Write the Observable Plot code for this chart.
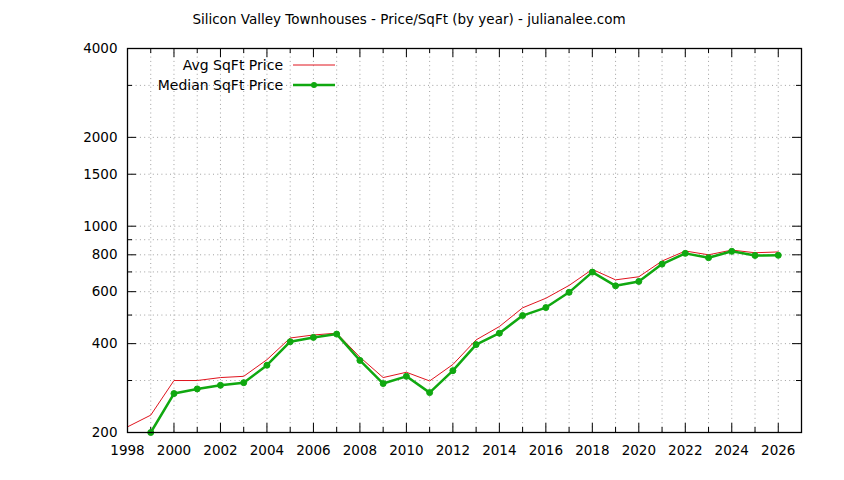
<!DOCTYPE html>
<html>
<head>
<meta charset="utf-8">
<script src="https://cdn.jsdelivr.net/npm/d3@7"></script>
<script src="https://cdn.jsdelivr.net/npm/@observablehq/plot@0.6"></script>
<style>
  html, body { margin: 0; padding: 0; background: #fff; }
  #chart svg { display: block; }
</style>
</head>
<body>
<div id="chart"></div>
<script>
const years = [1998,1999,2000,2001,2002,2003,2004,2005,2006,2007,2008,2009,2010,2011,2012,2013,2014,2015,2016,2017,2018,2019,2020,2021,2022,2023,2024,2025,2026];
const avgPrice = [209,229,300,300,307,310,353,418,428,434,360,307,320,299,340,412,457,529,570,630,714,658,674,762,824,800,830,813,818];
const medianYears = [1999,2000,2001,2002,2003,2004,2005,2006,2007,2008,2009,2010,2011,2012,2013,2014,2015,2016,2017,2018,2019,2020,2021,2022,2023,2024,2025,2026];
const medianPrice = [200,271,281,289,295,338,406,420,431,351,293,310,273,324,397,434,498,530,597,699,628,650,744,809,782,822,796,797];
const xLabelTicks = [1998,2000,2002,2004,2006,2008,2010,2012,2014,2016,2018,2020,2022,2024,2026];
const xMinorTicks = [1999,2001,2003,2005,2007,2009,2011,2013,2015,2017,2019,2021,2023,2025];
const yLabelTicks = [200,400,600,800,1000,1500,2000,4000];
const yMinorTicks = [300,500,700,900,3000];
const yGrid = [300,400,500,600,700,800,900,1000,1500,2000,3000];
const xGrid = years.slice(1);
const title = "Silicon Valley Townhouses - Price/SqFt (by year) - julianalee.com";
const legendLabels = ["Avg SqFt Price", "Median SqFt Price"];

const avgData = years.map((y, i) => ({year: y, value: avgPrice[i]}));
const medData = medianYears.map((y, i) => ({year: y, value: medianPrice[i]}));

const W = 844, H = 480, mT = 48, mB = 48, mL = 127, mR = 43;
const frameH = H - mT - mB, frameW = W - mL - mR;
const grid = {stroke: "#a0a0a0", strokeWidth: 1, strokeDasharray: "1,3.3", strokeOpacity: 1};
const RED = "#e0141e", GREEN = "#10a810";

const plot = Plot.plot({
  width: W, height: H,
  marginTop: mT, marginBottom: mB, marginLeft: mL, marginRight: mR,
  style: {fontFamily: "DejaVu Sans", fontSize: "13.5px", color: "#000", background: "#fff"},
  x: {type: "linear", domain: [1998, 2027], nice: false},
  y: {type: "log", domain: [200, 4000], nice: false},
  marks: [
    Plot.ruleX(xGrid, {x: d => d, ...grid}),
    Plot.ruleY(yGrid, {y: d => d, ...grid}),
    Plot.tickX(xLabelTicks, {x: d => d, insetTop: frameH - 9, stroke: "#000"}),
    Plot.tickX(xLabelTicks, {x: d => d, insetBottom: frameH - 9, stroke: "#000"}),
    Plot.tickX(xMinorTicks, {x: d => d, insetTop: frameH - 5, stroke: "#000"}),
    Plot.tickX(xMinorTicks, {x: d => d, insetBottom: frameH - 5, stroke: "#000"}),
    Plot.tickY(yLabelTicks, {y: d => d, insetRight: frameW - 9, stroke: "#000"}),
    Plot.tickY(yLabelTicks, {y: d => d, insetLeft: frameW - 9, stroke: "#000"}),
    Plot.tickY(yMinorTicks, {y: d => d, insetRight: frameW - 5, stroke: "#000"}),
    Plot.tickY(yMinorTicks, {y: d => d, insetLeft: frameW - 5, stroke: "#000"}),
    Plot.axisX({ticks: xLabelTicks, tickSize: 0, tickPadding: 13, tickFormat: d => String(d), label: null, fontSize: 13.5}),
    Plot.axisY({ticks: yLabelTicks, tickSize: 0, tickPadding: 10, tickFormat: d => String(d), label: null, fontSize: 13.5}),
    Plot.line(avgData, {x: "year", y: "value", stroke: RED, strokeWidth: 1}),
    Plot.line(medData, {x: "year", y: "value", stroke: GREEN, strokeWidth: 2.5}),
    Plot.dot(medData, {x: "year", y: "value", r: 3, fill: GREEN, stroke: GREEN, strokeWidth: 1}),
    Plot.frame({stroke: "#000", strokeWidth: 1.3})
  ]
});

const svg = d3.select(plot);
svg.append("text")
  .attr("x", 409).attr("y", 19)
  .attr("text-anchor", "middle").attr("dominant-baseline", "central")
  .attr("font-family", "DejaVu Sans").attr("font-size", 13.5).attr("fill", "#000")
  .text(title);
const lg = svg.append("g").attr("font-family", "DejaVu Sans").attr("font-size", 14);
lg.append("text").attr("x", 283).attr("y", 65).attr("text-anchor", "end").attr("dominant-baseline", "central").text(legendLabels[0]);
lg.append("line").attr("x1", 293).attr("x2", 335).attr("y1", 65).attr("y2", 65).attr("stroke", RED).attr("stroke-width", 1);
lg.append("text").attr("x", 283).attr("y", 85).attr("text-anchor", "end").attr("dominant-baseline", "central").text(legendLabels[1]);
lg.append("line").attr("x1", 293).attr("x2", 335).attr("y1", 85).attr("y2", 85).attr("stroke", GREEN).attr("stroke-width", 2.5);
lg.append("circle").attr("cx", 314).attr("cy", 85).attr("r", 3).attr("fill", GREEN);

document.getElementById("chart").appendChild(plot);
</script>
</body>
</html>
